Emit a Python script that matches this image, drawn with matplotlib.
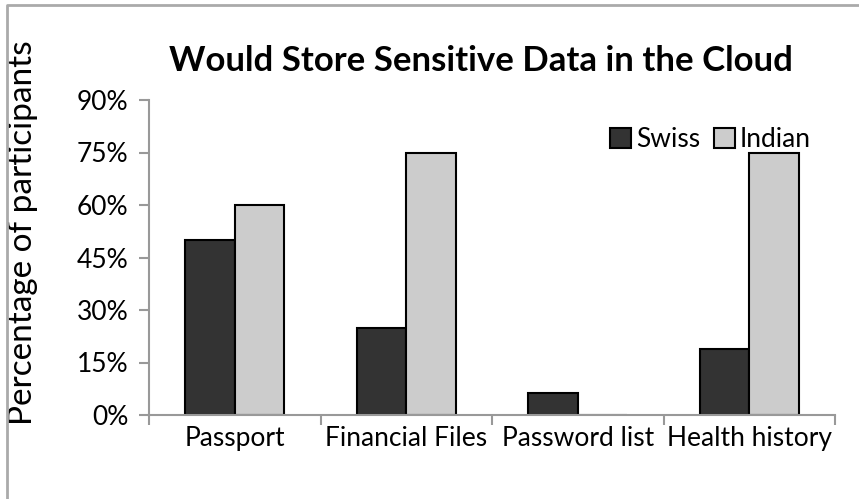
import numpy as np
import matplotlib.pyplot as plt
from matplotlib.lines import Line2D

plt.rcParams['font.family'] = ['Lato', 'DejaVu Sans']

categories = ['Passport', 'Financial Files', 'Password list', 'Health history']
swiss = [50, 25, 6.25, 18.75]
indian = [60, 75, 0, 75]
yticks = [0, 15, 30, 45, 60, 75, 90]

fig = plt.figure(figsize=(8.59, 4.99), dpi=100)
ax = fig.add_axes([149 / 859, 84 / 499, 686 / 859, 315 / 499])

x = np.arange(len(categories))
w = 0.29
ax.bar(x - w / 2, swiss, w, color='#333333', edgecolor='black', linewidth=1.5, label='Swiss')
ax.bar(x + w / 2, indian, w, color='#cccccc', edgecolor='black', linewidth=1.5, label='Indian')

ax.set_xlim(-0.5, len(categories) - 0.5)
ax.set_ylim(0, 90)
ax.set_yticks(yticks)
ax.set_yticklabels([f'{v}%' for v in yticks], fontsize=19)
ax.set_xticks(np.arange(len(categories) + 1) - 0.5)
ax.set_xticklabels([])
ax.set_xticks(x, minor=True)
ax.set_xticklabels(categories, minor=True, fontsize=19)
ax.tick_params(axis='x', which='minor', length=0, pad=8)
ax.tick_params(axis='both', which='major', color='#999999', length=7, width=1.5)
ax.tick_params(axis='y', pad=8)

for s in ['top', 'right']:
    ax.spines[s].set_visible(False)
for s in ['left', 'bottom']:
    ax.spines[s].set_color('#999999')
    ax.spines[s].set_linewidth(1.5)

ax.set_ylabel('Percentage of participants', fontsize=24)
ax.yaxis.set_label_coords(-0.162, 0.58)
fig.text(481 / 859, 1 - 61 / 499, 'Would Store Sensitive Data in the Cloud',
         fontsize=25, fontweight='bold', ha='center', va='center')

ax.legend(loc='center right', bbox_to_anchor=(0.965, 0.875), ncol=2, frameon=False,
          fontsize=19, handlelength=0.8, handleheight=0.8, handletextpad=0.2,
          columnspacing=0.5, borderaxespad=0.0, borderpad=0.0)

# outer chart border
fig.add_artist(Line2D([7 / 859, 7 / 859, 1], [0, 1 - 5 / 499, 1 - 5 / 499],
                      color='#aaaaaa', linewidth=2, transform=fig.transFigure))

fig.savefig('out.png', dpi=100)
